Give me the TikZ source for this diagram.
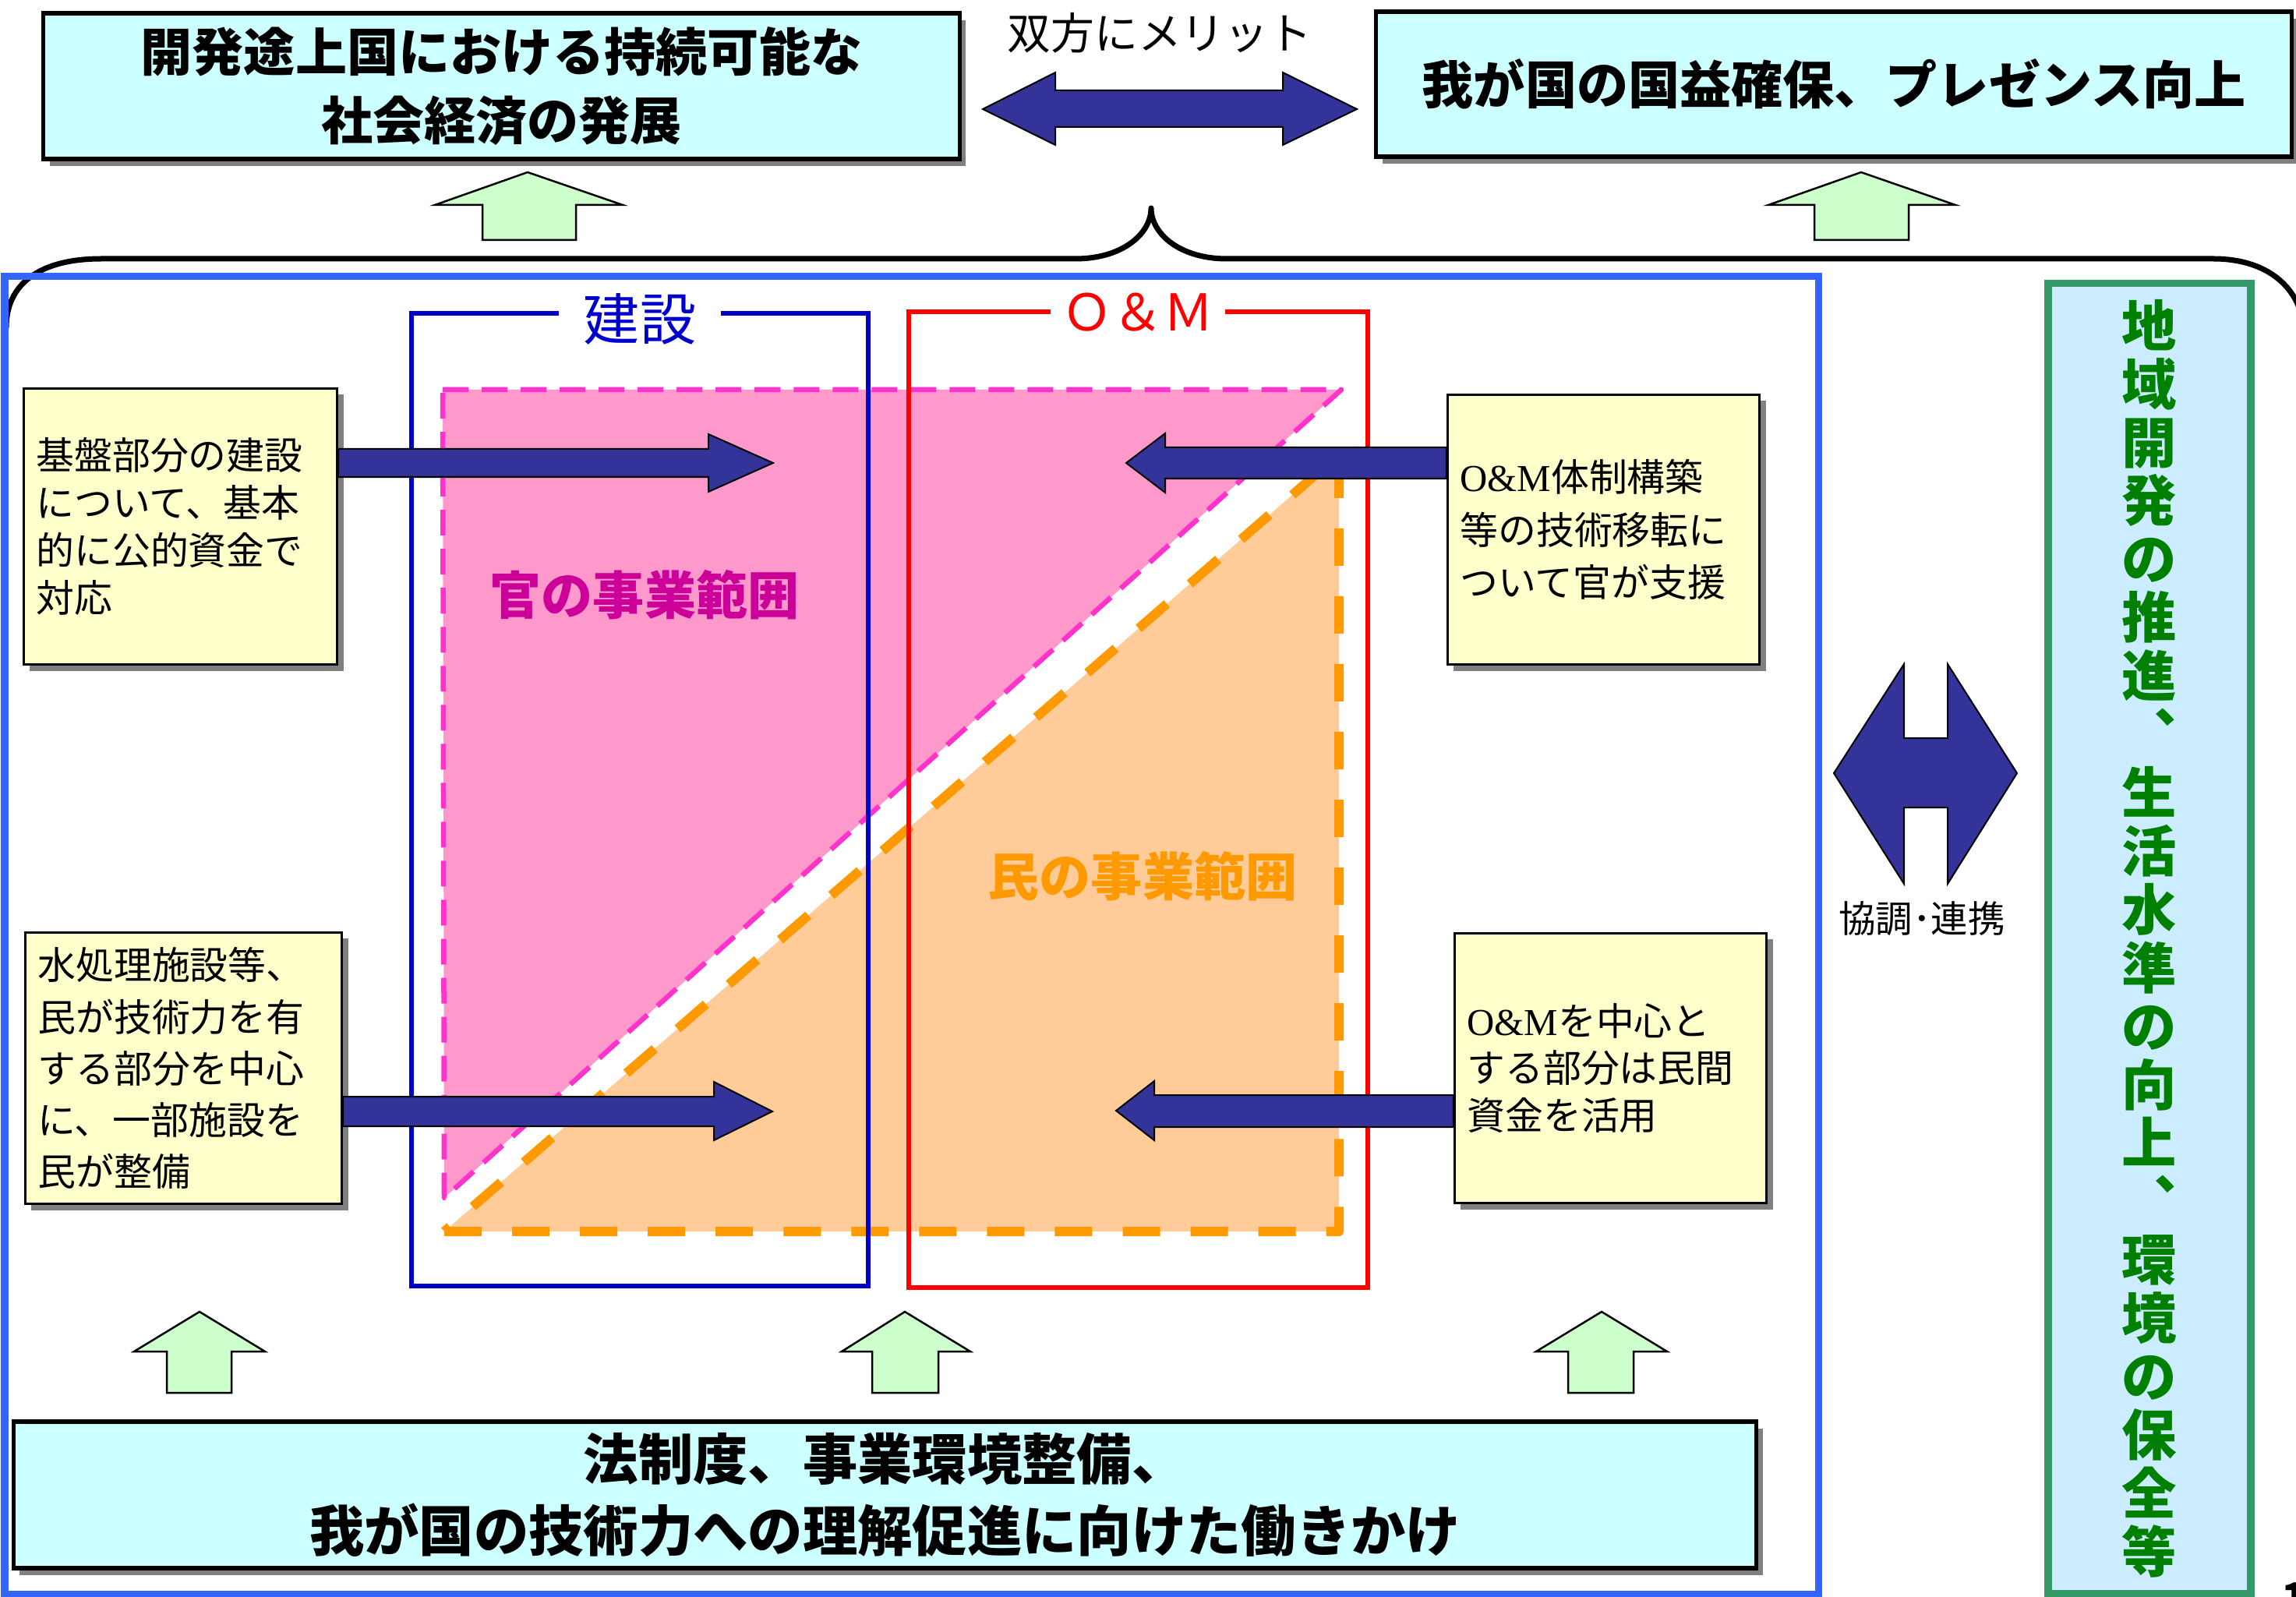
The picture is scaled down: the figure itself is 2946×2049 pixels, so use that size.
\documentclass[tikz,border=0pt]{standalone}
\usepackage{fontspec}
\setmainfont{Noto Sans CJK JP}
\newfontfamily\omserif{Liberation Serif}
\usetikzlibrary{shadows}
\definecolor{cyanbox}{HTML}{CCFFFF}
\definecolor{shadowgray}{HTML}{808080}
\definecolor{notefill}{HTML}{FFFFCC}
\definecolor{navyarrow}{HTML}{333399}
\definecolor{upgreen}{HTML}{CCFFCC}
\definecolor{pinkfill}{HTML}{FF99CC}
\definecolor{pinkdash}{HTML}{FF33CC}
\definecolor{orangefill}{HTML}{FFCC99}
\definecolor{orangedash}{HTML}{FF9900}
\definecolor{conblue}{HTML}{0000CC}
\definecolor{omred}{HTML}{FF0000}
\definecolor{frameblue}{HTML}{3366FF}
\definecolor{goalborder}{HTML}{339966}
\definecolor{goalfill}{HTML}{CCECFF}
\definecolor{goaltext}{HTML}{008000}
\definecolor{kantext}{HTML}{CC0099}
\begin{document}
\begin{tikzpicture}[x=0.01cm,y=-0.01cm,
  titlebox/.style={draw=black, line width=0.055cm, fill=cyanbox, align=center, inner sep=0pt,
     drop shadow={shadow xshift=0.08cm, shadow yshift=-0.09cm, fill=shadowgray, opacity=1}},
  notebox/.style={draw=black, line width=0.03cm, fill=notefill, align=left, inner xsep=0.16cm, inner ysep=0pt,
     drop shadow={shadow xshift=0.08cm, shadow yshift=-0.08cm, fill=shadowgray, opacity=1}},
  blockarrow/.style={fill=navyarrow, draw=black, line width=0.02cm, line join=miter},
  uparrow/.style={fill=upgreen, draw=black, line width=0.025cm, line join=miter},
  brace/.style={draw=black, line width=0.07cm, line cap=round, line join=round},
  zone/.style={line join=round},
]
\useasboundingbox (0,0) rectangle (2946,2049);
\fill[white] (0,0) rectangle (2946,2049);

% brace
\draw[brace] (8,420) .. controls (8,365) and (50,332) .. (130,332) -- (1380,332)
  .. controls (1440,332) and (1477,300) .. (1477,267)
  .. controls (1477,300) and (1514,332) .. (1574,332) -- (2840,332)
  .. controls (2905,332) and (2950,365) .. (2956,420);

% big frame
\draw[frameblue, line width=0.09cm] (6,355) rectangle (2333,2045);

% goal box
\node[draw=goalborder, line width=0.095cm, fill=goalfill, minimum width=2.60cm, minimum height=16.80cm,
  inner sep=0pt, align=center, text=goaltext, font=\fontsize{20}{21.3}\selectfont\bfseries] (goal) at (2758,1204)
  {地\\域\\開\\発\\の\\推\\進\\︑\\生\\活\\水\\準\\の\\向\\上\\︑\\環\\境\\の\\保\\全\\等};

% zones
\draw[zone, fill=pinkfill, draw=pinkdash, line width=0.065cm, dash pattern=on 0.33cm off 0.17cm]
  (568,500) -- (1721,500) -- (570,1537) -- cycle;
\draw[zone, fill=orangefill, draw=orangedash, line width=0.12cm, dash pattern=on 0.48cm off 0.39cm]
  (570,1580) -- (1718,1580) -- (1718,583) -- cycle;

% construction and O&M frames
\draw[conblue, line width=0.06cm] (717,402) -- (528,402) -- (528,1650) -- (1114,1650) -- (1114,402) -- (925,402);
\node[text=conblue, font=\fontsize{20.5}{20.5}\selectfont, inner sep=0pt] (kensetsu) at (821,409) {建設};
\draw[omred, line width=0.06cm] (1348,400) -- (1166,400) -- (1166,1652) -- (1755,1652) -- (1755,400) -- (1572,400);
\node[text=omred, font=\fontsize{18.5}{18.5}\selectfont, inner sep=0pt] (om) at (1460,401) {Ｏ＆Ｍ};

\node[text=kantext, font=\fontsize{18.8}{18.8}\selectfont\bfseries] (kan) at (827,763) {官の事業範囲};
\node[text=orangedash, font=\fontsize{18.8}{18.8}\selectfont\bfseries] (min) at (1466,1124) {民の事業範囲};

% note boxes
\node[notebox, text width=3.70cm, minimum height=3.54cm, font=\fontsize{13.9}{17.4}\selectfont] (b1) at (231.5,675.5)
  {基盤部分の建設\\について、基本\\的に公的資金で\\対応};
\node[notebox, text width=3.74cm, minimum height=3.48cm, font=\fontsize{13.9}{18.8}\selectfont] (b2) at (235.5,1370.5)
  {水処理施設等、\\民が技術力を有\\する部分を中心\\に、一部施設を\\民が整備};
\node[notebox, text width=3.68cm, minimum height=3.46cm, font=\fontsize{13.9}{19.3}\selectfont] (b3) at (2057.5,679.5)
  {{\omserif O\&M}体制構築\\等の技術移転に\\ついて官が支援};
\node[notebox, text width=3.68cm, minimum height=3.46cm, font=\fontsize{13.9}{17.1}\selectfont] (b4) at (2066.5,1370.5)
  {{\omserif O\&M}を中心と\\する部分は民間\\資金を活用};

% block arrows from note boxes
\draw[blockarrow] (b1.east |- 0,576) -- (909,576) -- (909,557) -- (992,594) -- (909,631) -- (909,612) -- (b1.east |- 0,612) -- cycle;
\draw[blockarrow] (b3.west |- 0,574) -- (1495,574) -- (1495,556) -- (1445,594) -- (1495,632) -- (1495,614) -- (b3.west |- 0,614) -- cycle;
\draw[blockarrow] (b2.east |- 0,1407) -- (916,1407) -- (916,1388) -- (991,1426) -- (916,1463) -- (916,1445) -- (b2.east |- 0,1445) -- cycle;
\draw[blockarrow] (b4.west |- 0,1405) -- (1481,1405) -- (1481,1387) -- (1432,1425) -- (1481,1463) -- (1481,1446) -- (b4.west |- 0,1446) -- cycle;

% top boxes
\node[titlebox, minimum width=11.75cm, minimum height=1.87cm, font=\fontsize{18.8}{25}\selectfont\bfseries] (tl) at (643.5,110.5)
  {開発途上国における持続可能な\\社会経済の発展};
\node[titlebox, minimum width=11.74cm, minimum height=1.86cm, font=\fontsize{18.8}{25}\selectfont\bfseries] (tr) at (2353,108)
  {我が国の国益確保、プレゼンス向上};
\draw[blockarrow] (1261,140) -- (1354,93) -- (1354,116) -- (1646,116) -- (1646,93) -- (1741,140) -- (1646,186) -- (1646,163) -- (1354,163) -- (1354,186) -- cycle;
\node[font=\fontsize{15.9}{15.9}\selectfont] (merit) at (1488,42) {双方にメリット};

% green up arrows (top)
\draw[uparrow] (677,221) -- (799,263) -- (739,263) -- (739,308) -- (619,308) -- (619,263) -- (558,263) -- cycle;
\draw[uparrow] (2388,221) -- (2509,263) -- (2449,263) -- (2449,308) -- (2328,308) -- (2328,263) -- (2269,263) -- cycle;

% bottom box
\node[titlebox, minimum width=22.35cm, minimum height=1.88cm, font=\fontsize{20}{26.2}\selectfont\bfseries] (law) at (1135.5,1918)
  {法制度、事業環境整備、\\我が国の技術力への理解促進に向けた働きかけ};

% green up arrows (bottom)
\draw[uparrow] (256,1683) -- (340,1734) -- (297,1734) -- (297,1787) -- (214,1787) -- (214,1734) -- (172,1734) -- cycle;
\draw[uparrow] (1161,1683) -- (1245,1734) -- (1204,1734) -- (1204,1787) -- (1119,1787) -- (1119,1734) -- (1080,1734) -- cycle;
\draw[uparrow] (2055,1683) -- (2139,1734) -- (2096,1734) -- (2096,1787) -- (2012,1787) -- (2012,1734) -- (1971,1734) -- cycle;

% cooperation arrow
\draw[blockarrow] (2353,992) -- (2443,852) -- (2443,947) -- (2499,947) -- (2499,852) -- (2588,992) -- (2499,1134) -- (2499,1036) -- (2443,1036) -- (2443,1134) -- cycle;
\node[font=\fontsize{13.5}{13.5}\selectfont] (kyocho) at (2466,1179) {協調･連携};

% page number fragment
\node[font=\fontsize{16}{16}\selectfont\bfseries, anchor=north west, inner sep=0pt] (pageno) at (2927,2030) {1};
\end{tikzpicture}
\end{document}
